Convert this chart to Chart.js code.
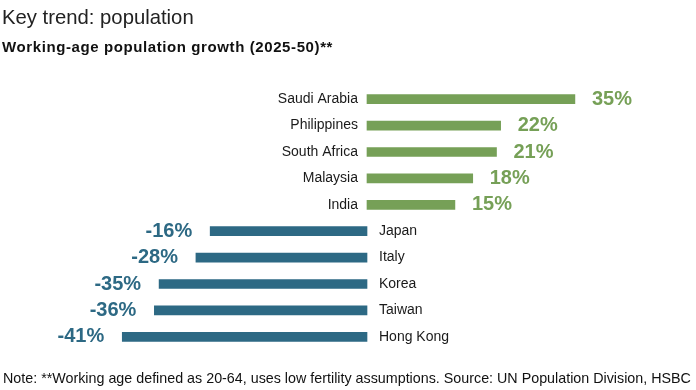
<!DOCTYPE html>
<html>
<head>
<meta charset="utf-8">
<script src="https://cdn.jsdelivr.net/npm/chart.js@4"></script>
<style>
  html, body { margin: 0; padding: 0; background: #fff; }
  body { width: 696px; height: 390px; position: relative; overflow: hidden; font-family: "Liberation Sans", Arial, sans-serif; }
  #title { position: absolute; left: 2px; top: 5px; font-size: 20.3px; color: #222; line-height: 24px; white-space: nowrap; }
  #subtitle { position: absolute; left: 2px; top: 38px; font-size: 15px; letter-spacing: 0.6px; font-weight: bold; color: #111; line-height: 18px; white-space: nowrap; }
  #note { position: absolute; left: 3px; top: 370px; font-size: 14.3px; color: #111; line-height: 17px; white-space: nowrap; font-family: "Liberation Sans Narrow", "Liberation Sans", Arial, sans-serif; }
  #wrap { position: absolute; left: 0; top: 0; width: 696px; height: 390px; }
</style>
</head>
<body>
<div id="wrap"><canvas id="c" width="696" height="390"></canvas></div>
<div id="title">Key trend: population</div>
<div id="subtitle">Working-age population growth (2025-50)**</div>
<div id="note">Note: **Working age defined as 20-64, uses low fertility assumptions. Source: UN Population Division, HSBC</div>
<script>
const countries = ["Saudi Arabia", "Philippines", "South Africa", "Malaysia", "India", "Japan", "Italy", "Korea", "Taiwan", "Hong Kong"];
const growth = [35, 22.5, 21.8, 17.8, 14.8, -26.4, -28.8, -35, -35.8, -41.2];
const valueLabels = ["35%", "22%", "21%", "18%", "15%", "-16%", "-28%", "-35%", "-36%", "-41%"];

const GREEN = "#76a057";
const BLUE = "#2d6984";

const labelPlugin = {
  id: "labelPlugin",
  afterDatasetsDraw(chart) {
    const ctx = chart.ctx;
    const meta = chart.getDatasetMeta(0);
    const xs = chart.scales.x;
    const zero = xs.getPixelForValue(0);
    ctx.save();
    ctx.textBaseline = "middle";
    meta.data.forEach((bar, i) => {
      const v = growth[i];
      const y = bar.y;
      const col = v >= 0 ? GREEN : BLUE;
      ctx.font = "14px 'Liberation Sans', Arial, sans-serif";
      ctx.fillStyle = "#1a1a1a";
      if (v >= 0) { ctx.textAlign = "right"; ctx.fillText(countries[i], zero - 9, y); }
      else { ctx.textAlign = "left"; ctx.fillText(countries[i], zero + 12, y); }
      ctx.font = "bold 20px 'Liberation Sans', Arial, sans-serif";
      ctx.fillStyle = col;
      if (v >= 0) { ctx.textAlign = "left"; ctx.fillText(valueLabels[i], bar.x + 17, y); }
      else { ctx.textAlign = "right"; ctx.fillText(valueLabels[i], bar.x - 18, y); }
    });
    ctx.restore();
  }
};

new Chart(document.getElementById("c"), {
  type: "bar",
  data: {
    labels: countries,
    datasets: [{
      data: growth,
      backgroundColor: growth.map(v => v >= 0 ? GREEN : BLUE),
      barThickness: 9,
      borderWidth: 0
    }]
  },
  options: {
    indexAxis: "y",
    responsive: false,
    animation: false,
    layout: { padding: { left: 70, right: 32, top: 86, bottom: 40 } },
    plugins: { legend: { display: false }, tooltip: { enabled: false } },
    scales: {
      x: { display: false, min: -50, max: 50 },
      y: { display: false }
    }
  },
  plugins: [labelPlugin]
});
</script>
</body>
</html>
